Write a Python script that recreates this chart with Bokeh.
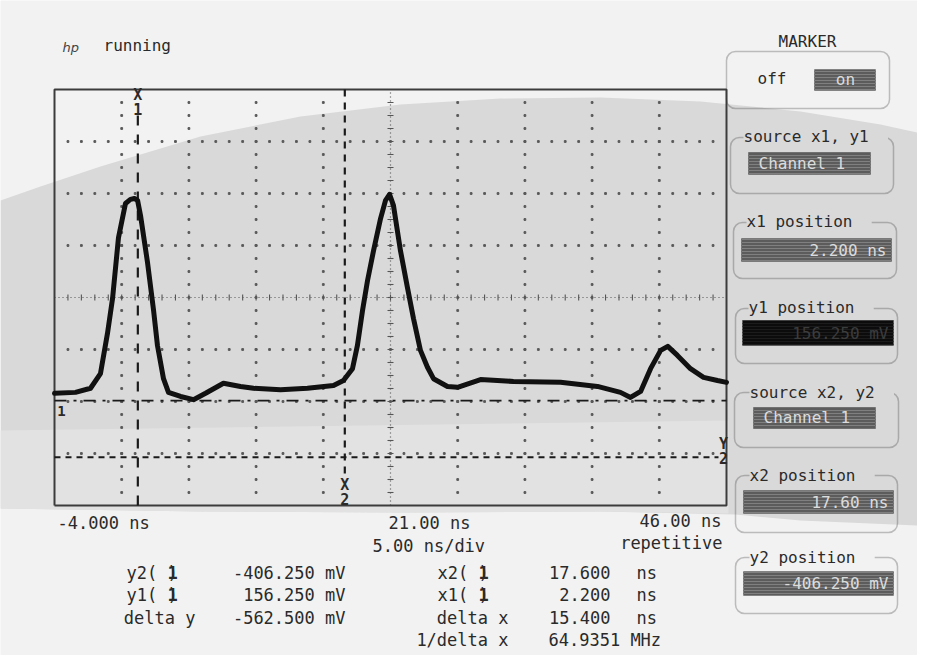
import numpy as np
from bokeh.plotting import figure
from bokeh.models import Range1d, Label, BoxAnnotation
from bokeh.embed import file_html
from bokeh.resources import INLINE

# ---------------- data ----------------
time_ns = [-4.0, -2.44, -1.32, -0.58, -0.06, 0.32, 0.76, 1.28, 1.65, 1.95, 2.18, 2.40,
           2.92, 3.37, 3.66, 4.11, 4.48, 5.38, 6.34, 7.24, 8.57, 9.84, 10.81, 12.82,
           14.82, 16.76, 17.50, 18.17, 18.54, 18.92, 19.29, 19.74, 20.26, 20.63, 20.93,
           21.22, 21.74, 22.26, 22.71, 23.23, 23.75, 24.20, 25.24, 25.99, 27.70, 30.15,
           33.65, 36.40, 38.11, 38.86, 39.61, 40.35, 41.10, 41.63, 42.35, 43.32, 44.29,
           45.33, 46.0]
trace_mv = [-266, -264, -255, -223, -135, -58, 75, 150, 159, 161, 157, 124,
            21, -84, -161, -234, -264, -273, -280, -266, -244, -251, -255, -258,
            -255, -249, -238, -212, -161, -84, -19, 47, 117, 157, 170,
            146, 47, -34, -102, -172, -209, -234, -251, -253, -236, -240,
            -242, -251, -264, -275, -262, -212, -172, -163, -183, -212, -231,
            -238, -242]

x_start_ns, ns_per_div, n_xdiv = -4.0, 5.0, 10
mv_center, mv_per_div, n_ydiv = -56.0, 114.0, 8
x1_ns, x2_ns = 2.2, 17.6
y1_mv, y2_mv = 156.25, -406.25
ch1_ref_mv = -282.0
x_tick_labels = ["-4.000 ns", "21.00 ns", "46.00 ns"]
timebase_label = "5.00 ns/div"
mode_label = "repetitive"
channel_name = "Channel 1"

# ---------------- geometry ----------------
W, H = 917, 655
GX0, GX1 = 54, 726      # graticule left / right (px)
GYC, DIVPX = 297, 52    # graticule centre row and px per vertical division
px_per_ns = (GX1 - GX0) / (n_xdiv * ns_per_div)
mv_per_px = mv_per_div / DIVPX
ns_lo = x_start_ns + (0 - GX0) / px_per_ns
ns_hi = x_start_ns + (W - GX0) / px_per_ns
mv_hi = mv_center + GYC * mv_per_px
mv_lo = mv_center - (H - GYC) * mv_per_px


def Y(py):
    return H - py


MONO = "DejaVu Sans Mono"
INK = "#2a2a2a"
BG = "#f2f2f2"
BAND = "#d9d9d9"

p = figure(width=W, height=H, x_range=Range1d(0, W), y_range=Range1d(0, H),
           output_backend="svg", toolbar_location=None, x_axis_location=None,
           y_axis_location=None, min_border=0, background_fill_color=BG,
           border_fill_color=BG, outline_line_color=None)
p.grid.visible = False
p.extra_x_ranges = {"ns": Range1d(ns_lo, ns_hi)}
p.extra_y_ranges = {"mv": Range1d(mv_lo, mv_hi)}
R = dict(x_range_name="ns", y_range_name="mv")

# ---------------- background band of the photo ----------------
top_curve = [(0, 200), (40, 186), (100, 166), (200, 136), (300, 116), (400, 104), (500, 98),
             (600, 97), (700, 101), (800, 111), (880, 124), (917, 132)]
bot_curve = [(917, 525), (800, 520), (735, 514), (600, 511), (400, 512), (200, 511), (0, 508)]
pts = top_curve + bot_curve
p.patch([a for a, b in pts], [Y(b) for a, b in pts], fill_color=BAND, line_color=None)
low = [(0, 430), (728, 420), (728, 513), (600, 511), (400, 512), (200, 511), (0, 508)]
p.patch([a for a, b in low], [Y(b) for a, b in low], fill_color="#e2e2e2", line_color=None)

# ---------------- graticule ----------------
t_end = x_start_ns + n_xdiv * ns_per_div
mv_bot = mv_center - n_ydiv / 2 * mv_per_div
mv_top = mv_center + n_ydiv / 2 * mv_per_div

gx, gy = [], []
for j in range(-3, 4):
    if j == 0:
        continue
    lv = mv_center + j * mv_per_div
    for t in np.arange(x_start_ns + 1, t_end, 1.0):
        gx.append(t); gy.append(lv)
for k in range(1, n_xdiv):
    if k == n_xdiv // 2:
        continue
    tv = x_start_ns + k * ns_per_div
    for m in np.arange(mv_bot + mv_per_div / 4, mv_top, mv_per_div / 4):
        gx.append(tv); gy.append(m)
p.scatter(gx, gy, marker="square", size=1.8, color="#5a5a5a", **R)

t_mid = x_start_ns + n_xdiv / 2 * ns_per_div
p.line([x_start_ns, t_end], [mv_center, mv_center], line_color="#555555", line_width=1.2,
       line_dash="1 3", **R)
p.line([t_mid, t_mid], [mv_bot, mv_top], line_color="#555555", line_width=1.2,
       line_dash="1 3", **R)
tk = np.arange(x_start_ns + 1, t_end, 1.0)
p.segment(tk, mv_center - 3 * mv_per_px, tk, mv_center + 3 * mv_per_px,
          line_color="#555555", line_width=1.1, **R)
mk = np.arange(mv_bot + mv_per_div / 4, mv_top, mv_per_div / 4)
p.segment(t_mid - 3 / px_per_ns, mk, t_mid + 3 / px_per_ns, mk,
          line_color="#555555", line_width=1.1, **R)

# border
p.line([x_start_ns, t_end, t_end, x_start_ns, x_start_ns],
       [mv_bot, mv_bot, mv_top, mv_top, mv_bot], line_color="#3c3c3c", line_width=2, **R)

# ---------------- marker lines ----------------
p.line([x1_ns, x1_ns], [mv_bot, mv_top - 26 * mv_per_px], line_color="#1a1a1a",
       line_width=2.2, line_dash="10 9", **R)
p.line([x2_ns, x2_ns], [mv_bot + 32 * mv_per_px, mv_top], line_color="#1a1a1a",
       line_width=2.2, line_dash="7 6", **R)
p.line([x_start_ns, t_end - 8 / px_per_ns], [y2_mv, y2_mv], line_color="#1a1a1a",
       line_width=1.8, line_dash="6 5", **R)
p.line([x_start_ns, t_end], [ch1_ref_mv, ch1_ref_mv], line_color="#1a1a1a",
       line_width=1.8, line_dash="12 7 3 7", **R)

# ---------------- trace ----------------
p.line(time_ns, trace_mv, line_color="#111111", line_width=5, line_join="round",
       line_cap="round", **R)


def lab(x, py, text, size=17, align="left", color=INK, bold=False, bg=None, font=MONO,
        italic=False):
    style = "bold" if bold else ("italic" if italic else "normal")
    kw = dict(x=x, y=Y(py), text=text, text_align=align, text_baseline="middle",
              text_font=font, text_font_size=f"{size}px", text_color=color,
              text_font_style=style)
    if bg is not None:
        kw.update(background_fill_color=bg, background_fill_alpha=1.0)
    p.add_layout(Label(**kw))


def px_of_ns(t):
    return GX0 + (t - x_start_ns) * px_per_ns


def py_of_mv(m):
    return GYC - (m - mv_center) / mv_per_px


# marker labels
lab(px_of_ns(x1_ns), 94, "X", size=15, align="center", bold=True)
lab(px_of_ns(x1_ns), 108, "1", size=15, align="center", bold=True)
lab(px_of_ns(x2_ns), 484, "X", size=15, align="center", bold=True)
lab(px_of_ns(x2_ns), 498, "2", size=15, align="center", bold=True)
lab(px_of_ns(t_end) - 3, py_of_mv(y2_mv) - 13, "Y", size=15, align="center", bold=True)
lab(px_of_ns(t_end) - 3, py_of_mv(y2_mv) + 1, "2", size=15, align="center", bold=True)
lab(px_of_ns(x_start_ns) + 7, py_of_mv(ch1_ref_mv) + 10, "1", size=14, align="center", bold=True)

# header
lab(62, 47, "hp", size=13, font="DejaVu Sans", italic=True, color="#444444")
lab(103, 45, "running", size=16)

# axis texts
lab(57, 522, x_tick_labels[0])
lab(388, 522, x_tick_labels[1])
lab(721, 520, x_tick_labels[2], align="right")
lab(372, 545, timebase_label)
lab(722, 542, mode_label, align="right")

# readouts
dy = y2_mv - y1_mv
dx = x2_ns - x1_ns
freq = 1e3 / dx
rows = [572, 594, 617, 639]
lab(126, rows[0], "y2(   )"); lab(172, rows[0], "1", bold=True, align="center")
lab(126, rows[1], "y1(   )"); lab(172, rows[1], "1", bold=True, align="center")
lab(195, rows[2], "delta y", align="right")
lab(345, rows[0], f"{y2_mv:.3f} mV", align="right")
lab(345, rows[1], f"{y1_mv:.3f} mV", align="right")
lab(345, rows[2], f"{dy:.3f} mV", align="right")
lab(437, rows[0], "x2(   )"); lab(483, rows[0], "1", bold=True, align="center")
lab(437, rows[1], "x1(   )"); lab(483, rows[1], "1", bold=True, align="center")
lab(508, rows[2], "delta x", align="right")
lab(508, rows[3], "1/delta x", align="right")
lab(610, rows[0], f"{x2_ns:.3f}", align="right")
lab(610, rows[1], f"{x1_ns:.3f}", align="right")
lab(610, rows[2], f"{dx:.3f}", align="right")
lab(636, rows[0], "ns"); lab(636, rows[1], "ns"); lab(636, rows[2], "ns")
lab(548, rows[3], f"{freq:.4f} MHz")


# ---------------- right-hand soft-key panel ----------------
def panel(l, r, t, b):
    p.add_layout(BoxAnnotation(left=l, right=r, top=Y(t), bottom=Y(b), fill_alpha=0,
                               line_color="#3a3a3a", line_width=1.5, border_radius=9))


def field(l, r, t, b, fill="#5c5c5c", hatch="#808080"):
    p.add_layout(BoxAnnotation(left=l, right=r, top=Y(t), bottom=Y(b), fill_color=fill,
                               fill_alpha=1, hatch_pattern="horizontal_line",
                               hatch_color=hatch, hatch_scale=3, hatch_weight=1,
                               line_color="#333333", line_width=1))


FIELD_TXT = "#dcdcdc"
lab(807, 41, "MARKER", size=16, align="center")
panel(726, 889, 51, 108)
lab(757, 78, "off", size=16)
field(814, 875, 69, 90)
lab(845, 79, "on", size=16, align="center", color=FIELD_TXT)

panel(730, 893, 137, 193)
lab(743, 136, " source x1, y1 ", size=16, bg=BAND)
field(748, 870, 152, 174)
lab(758, 163, channel_name, size=16, color=FIELD_TXT)

panel(733, 896, 222, 278)
lab(746, 221, " x1 position ", size=16, bg=BAND)
field(741, 891, 238, 261)
lab(886, 250, f"{x1_ns:.3f} ns", size=16, align="right", color=FIELD_TXT)

panel(735, 897, 308, 363)
lab(748, 307, " y1 position ", size=16, bg=BAND)
field(742, 893, 320, 345, fill="#0c0c0c", hatch="#1c1c1c")
lab(888, 333, f"{y1_mv:.3f} mV", size=16, align="right", color="#3c3c3c")

panel(734, 898, 392, 447)
lab(749, 392, " source x2, y2 ", size=16, bg=BAND)
field(753, 875, 407, 428)
lab(763, 417, channel_name, size=16, color=FIELD_TXT)

panel(735, 897, 475, 532)
lab(749, 475, " x2 position ", size=16, bg=BAND)
field(743, 893, 490, 513)
lab(888, 502, f"{x2_ns:.2f} ns", size=16, align="right", color=FIELD_TXT)

panel(735, 897, 557, 613)
lab(749, 557, " y2 position ", size=16, bg=BG)
field(743, 893, 571, 595)
lab(888, 583, f"{y2_mv:.3f} mV", size=16, align="right", color=FIELD_TXT)

open("out.html", "w").write(file_html(p, INLINE))
